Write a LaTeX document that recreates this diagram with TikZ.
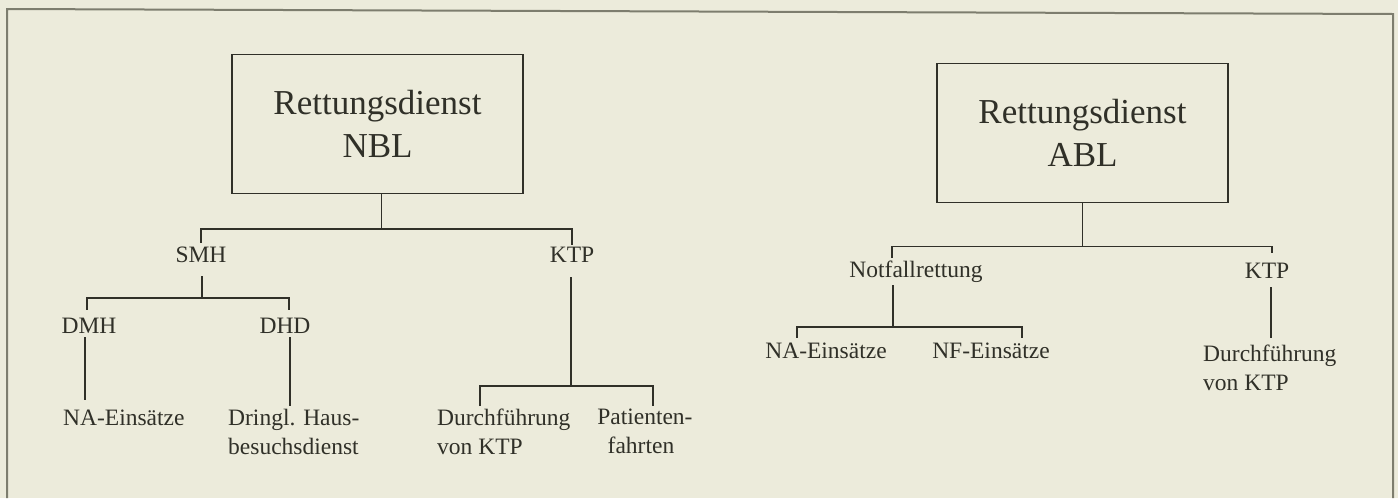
\documentclass[tikz,border=0pt]{standalone}
\usepackage{fontspec}
\setmainfont{Liberation Serif}
\usetikzlibrary{calc}
\definecolor{bgc}{RGB}{236,235,219}
\definecolor{ink}{RGB}{48,48,40}
\definecolor{framec}{RGB}{125,125,110}
\begin{document}
\begin{tikzpicture}[x=1pt,y=-1pt,
  conn/.style={line width=1.6pt, draw=ink},
  bigbox/.style={draw=ink, line width=1.6pt, minimum width=291pt, minimum height=139pt,
    inner sep=0pt, align=center, text=ink, font=\fontsize{35}{43}\selectfont},
  lbl/.style={anchor=base, inner sep=0pt, text height=16pt, text depth=0pt, text=ink,
    font=\fontsize{23.5}{28.5}\selectfont},
  mlbl/.style={inner sep=0pt, text=ink, font=\fontsize{23.5}{28.5}\selectfont}]
% background and frame
\fill[bgc] (0,0) rectangle (1398,498);
\draw[framec, line width=2pt] (7,498) -- (7,9) -- (1393,14) -- (1393,498);
% levels of brackets
\coordinate (yL1) at (0,229);
\coordinate (yL2) at (0,298);
\coordinate (yL3) at (0,386);
\coordinate (yR1) at (0,246.5);
\coordinate (yR2) at (0,327);
% ---------- left tree ----------
\node[bigbox] (nbl) at (377.5,124) {Rettungsdienst\\NBL};
\node[lbl] (smh) at (201,262) {SMH};
\node[lbl] (ktpL) at (572,262) {KTP};
\node[lbl] (dmh) at (89,333) {DMH};
\node[lbl] (dhd) at (285,333) {DHD};
\node[lbl, anchor=base west] (naL) at (63,425) {NA-Einsätze};
\node[mlbl, align=left, anchor=north west] (dringl) at (228,409) {Dringl. Haus-\\besuchsdienst};
\node[mlbl, align=left, anchor=north west] (durchL) at (437,409) {Durchführung\\von KTP};
\node[mlbl, align=center, anchor=north] (patL) at (641,409) {Patienten\rlap{-}\\fahrten};
\draw[conn] ($(nbl.south)+(4,0)$) -- ($(nbl.south |- yL1)+(4,0)$);
\draw[conn] ($(smh.north)+(0,-3)$) -- (smh.north |- yL1) -- (ktpL.north |- yL1) -- ($(ktpL.north)+(0,-1)$);
\draw[conn] ($(smh.south)+(1,14)$) -- ($(smh.south |- yL2)+(1,0)$);
\draw[conn] ($(dmh.north)+(-2,-7)$) -- ($(dmh.north |- yL2)+(-2,0)$) -- ($(dhd.north |- yL2)+(4,0)$) -- ($(dhd.north)+(4,-7)$);
\draw[conn] ($(dmh.south)+(-4,4)$) -- ($(dmh.south |- naL.north)+(-4,-9)$);
\draw[conn] ($(dhd.south)+(5,4)$) -- ($(dhd.south |- dringl.north)+(5,-3)$);
\draw[conn] ($(ktpL.south)+(-1,15)$) -- ($(ktpL.south |- yL3)+(-1,0)$);
\draw[conn] ($(durchL.north west)+(43,-3)$) -- ($(durchL.north west |- yL3)+(43,0)$) -- ($(patL.north |- yL3)+(12,0)$) -- ($(patL.north)+(12,-3)$);
% ---------- right tree ----------
\node[bigbox] (abl) at (1082.5,133) {Rettungsdienst\\ABL};
\node[lbl] (notf) at (916,277) {Notfallrettung};
\node[lbl] (ktpR) at (1267,278) {KTP};
\node[lbl] (naR) at (826,358) {NA-Einsätze};
\node[lbl] (nfR) at (991,358) {NF-Einsätze};
\node[mlbl, align=left, anchor=north west] (durchR) at (1203,345) {Durchführung\\von KTP};
\draw[conn] (abl.south) -- (abl.south |- yR1);
\draw[conn] ($(notf.north)+(-24,-3)$) -- ($(notf.north |- yR1)+(-24,0)$) -- ($(ktpR.north |- yR1)+(5,0)$) -- ($(ktpR.north)+(5,-9)$);
\draw[conn] ($(notf.south)+(-23,8)$) -- ($(notf.south |- yR2)+(-23,0)$);
\draw[conn] ($(naR.north)+(-29,-4)$) -- ($(naR.north |- yR2)+(-29,0)$) -- ($(nfR.north |- yR2)+(31,0)$) -- ($(nfR.north)+(31,-4)$);
\draw[conn] ($(ktpR.south)+(4,9)$) -- ($(ktpR.south |- durchR.north)+(4,-7)$);
\end{tikzpicture}
\end{document}
